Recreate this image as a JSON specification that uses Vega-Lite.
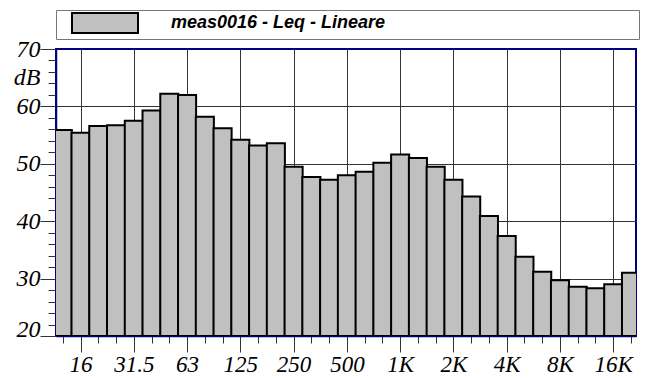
{
  "$schema": "https://vega.github.io/schema/vega-lite/v6.json",
  "autosize": "none",
  "padding": {"left": 56, "top": 49, "right": 12, "bottom": 42},
  "width": 580,
  "height": 287,
  "background": "white",
  "config": {
    "view": {"stroke": "#000080", "strokeWidth": 2},
    "style": {"guide-label": {"font": "Liberation Serif", "fontStyle": "italic", "fill": "black"}}
  },
  "data": {
    "values": [
      {"band": 11, "freq": "12.5", "level": 55.9},
      {"band": 12, "freq": "16", "level": 55.4},
      {"band": 13, "freq": "20", "level": 56.6},
      {"band": 14, "freq": "25", "level": 56.7},
      {"band": 15, "freq": "31.5", "level": 57.5},
      {"band": 16, "freq": "40", "level": 59.3},
      {"band": 17, "freq": "50", "level": 62.2},
      {"band": 18, "freq": "63", "level": 62.0},
      {"band": 19, "freq": "80", "level": 58.2},
      {"band": 20, "freq": "100", "level": 56.2},
      {"band": 21, "freq": "125", "level": 54.2},
      {"band": 22, "freq": "160", "level": 53.2},
      {"band": 23, "freq": "200", "level": 53.6},
      {"band": 24, "freq": "250", "level": 49.5},
      {"band": 25, "freq": "315", "level": 47.7},
      {"band": 26, "freq": "400", "level": 47.2},
      {"band": 27, "freq": "500", "level": 48.0},
      {"band": 28, "freq": "630", "level": 48.6},
      {"band": 29, "freq": "800", "level": 50.2},
      {"band": 30, "freq": "1K", "level": 51.6},
      {"band": 31, "freq": "1.25K", "level": 51.0},
      {"band": 32, "freq": "1.6K", "level": 49.5},
      {"band": 33, "freq": "2K", "level": 47.2},
      {"band": 34, "freq": "2.5K", "level": 44.3},
      {"band": 35, "freq": "3.15K", "level": 40.9},
      {"band": 36, "freq": "4K", "level": 37.4},
      {"band": 37, "freq": "5K", "level": 33.8},
      {"band": 38, "freq": "6.3K", "level": 31.2},
      {"band": 39, "freq": "8K", "level": 29.7},
      {"band": 40, "freq": "10K", "level": 28.6},
      {"band": 41, "freq": "12.5K", "level": 28.3},
      {"band": 42, "freq": "16K", "level": 29.0},
      {"band": 43, "freq": "20K", "level": 31.0}
    ]
  },
  "mark": {"type": "bar", "width": 18.06, "stroke": "black", "strokeWidth": 2, "clip": true},
  "encoding": {
    "x": {
      "field": "band",
      "type": "quantitative",
      "scale": {"domain": [10.9, 43], "nice": false, "zero": false},
      "axis": {
        "title": null,
        "values": [11, 12, 13, 14, 15, 16, 17, 18, 19, 20, 21, 22, 23, 24, 25, 26, 27, 28, 29, 30, 31, 32, 33, 34, 35, 36, 37, 38, 39, 40, 41, 42, 43],
        "labelExpr": "(datum.value - 12) % 3 == 0 ? ['16','31.5','63','125','250','500','1K','2K','4K','8K','16K'][(datum.value - 12) / 3] : ''",
        "labelFont": "Liberation Serif",
        "labelFontStyle": "italic",
        "labelFontSize": 23,
        "labelColor": "black",
        "labelPadding": 1,
        "labelOverlap": false,
        "labelFlush": false,
        "tickSize": {"condition": {"test": "(datum.value - 12) % 3 == 0", "value": 16}, "value": 7},
        "tickColor": "#333",
        "tickWidth": 1,
        "domainColor": "#000080",
        "domainWidth": 1.5,
        "grid": true,
        "gridColor": "#333",
        "gridWidth": 1,
        "gridOpacity": {"condition": {"test": "(datum.value - 12) % 3 == 0", "value": 1}, "value": 0}
      }
    },
    "y": {
      "field": "level",
      "type": "quantitative",
      "scale": {"domain": [20, 70], "nice": false, "zero": false},
      "axis": {
        "title": null,
        "values": [20, 22, 24, 26, 28, 30, 32, 34, 36, 38, 40, 42, 44, 46, 48, 50, 52, 54, 56, 58, 60, 62, 64, 65, 66, 68, 70],
        "labelExpr": "datum.value == 65 ? 'dB' : (datum.value % 10 == 0 ? datum.label : '')",
        "labelFont": "Liberation Serif",
        "labelFontStyle": "italic",
        "labelFontSize": 24,
        "labelColor": "black",
        "labelPadding": 0,
        "labelOverlap": false,
        "labelFlush": false,
        "labelBaseline": {"condition": {"test": "datum.value == 20", "value": "alphabetic"}, "value": "middle"},
        "tickSize": {"condition": {"test": "datum.value % 10 == 0 || datum.value == 65", "value": 16}, "value": 8},
        "tickOpacity": {"condition": {"test": "datum.value == 65", "value": 0}, "value": 1},
        "tickColor": "#333",
        "tickWidth": 1,
        "domainColor": "#000080",
        "domainWidth": 1.5,
        "grid": true,
        "gridColor": "#333",
        "gridWidth": 1,
        "gridOpacity": {"condition": {"test": "datum.value % 10 == 0 && datum.value > 20 && datum.value < 70", "value": 1}, "value": 0}
      }
    },
    "y2": {"datum": 20},
    "fill": {
      "datum": "meas0016 - Leq - Lineare",
      "type": "nominal",
      "scale": {"range": ["#c0c0c0"]},
      "legend": {
        "orient": "none",
        "legendX": 0,
        "legendY": -39,
        "title": null,
        "padding": 2,
        "strokeColor": "#777777",
        "fillColor": "white",
        "symbolType": "M-3.3,-1H3.3V1H-3.3ZM52.8,0",
        "symbolSize": 400,
        "symbolStrokeColor": "black",
        "symbolStrokeWidth": 2,
        "symbolOpacity": 1,
        "symbolOffset": 36,
        "labelOffset": 55,
        "labelFont": "Liberation Sans",
        "labelFontStyle": "italic",
        "labelFontWeight": "bold",
        "labelFontSize": 18,
        "labelColor": "black",
        "labelLimit": 500
      }
    }
  }
}
